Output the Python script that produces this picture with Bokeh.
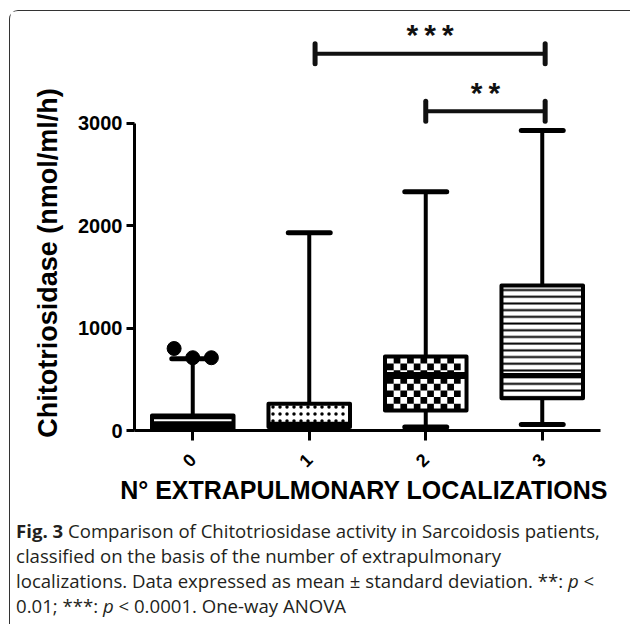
import math
from bokeh.plotting import figure
from bokeh.layouts import column
from bokeh.models import Range1d, FixedTicker, Div
from bokeh.embed import file_html
from bokeh.resources import INLINE
from bokeh.core.properties import value

# ---------------- data ----------------
groups = [0, 1, 2, 3]
group_labels = ["0", "1", "2", "3"]
whisker_low = [0, 15, 35, 58]
q1 = [15, 35, 195, 315]
median = [100, 55, 537, 537]
q3 = [147, 260, 722, 1415]
whisker_high = [700, 1930, 2330, 2927]
outlier_group = [0, 0, 0]
outlier_values = [800, 710, 710]
sig_left = [1, 2]
sig_right = [3, 3]
sig_level = [3675, 3115]
sig_text = ["***", "**"]
y_ticks = [0, 1000, 2000, 3000]
y_title = "Chitotriosidase (nmol/ml/h)"
x_title = "N° EXTRAPULMONARY LOCALIZATIONS"
caption_html = ("<b>Fig. 3</b> Comparison of Chitotriosidase activity in Sarcoidosis patients,<br>"
                "classified on the basis of the number of extrapulmonary<br>"
                "localizations. Data expressed as mean \u00b1 standard deviation. **: <i>p</i> &lt;<br>"
                "0.01; ***: <i>p</i> &lt; 0.0001. One-way ANOVA")

# ---------------- geometry / style ----------------
W, H = 610, 502
FL, FR, FT, FB = 124, 20, 9, 83
x0, x1 = -0.5, 3.5
y0, y1 = 0, 4000
ppx = (W - FL - FR) / (x1 - x0)
ppy = (H - FT - FB) / (y1 - y0)
BW = 0.70
CAP = 0.36
AX_FONT = "Liberation Sans"

p = figure(width=W, height=H, output_backend="svg", toolbar_location=None,
           x_range=Range1d(x0, x1), y_range=Range1d(y0, y1),
           min_border_left=FL, min_border_right=FR, min_border_top=FT, min_border_bottom=FB)
p.outline_line_color = None
p.grid.visible = False
p.background_fill_color = "white"
p.border_fill_color = "white"

# axes
for ax in (p.xaxis[0], p.yaxis[0]):
    ax.axis_line_width = 3
    ax.axis_line_color = "black"
    ax.major_tick_line_width = 3
    ax.major_tick_line_color = "black"
    ax.major_tick_in = 0
    ax.minor_tick_line_color = None
    ax.major_label_text_font = AX_FONT
    ax.major_label_text_font_style = "bold"
    ax.major_label_text_color = "black"
    ax.axis_label_text_font = AX_FONT
    ax.axis_label_text_font_style = "bold"
    ax.axis_label_text_color = "black"

p.yaxis.ticker = FixedTicker(ticks=y_ticks)
p.yaxis.bounds = (y_ticks[0], y_ticks[-1])
p.yaxis.major_tick_out = 8
p.yaxis.major_label_text_font_size = "20px"
p.yaxis.major_label_standoff = 4
# the title sits lower than the frame centre in the reference: pad its far end
p.yaxis.axis_label = y_title + "\u00a0" * 10
p.yaxis.axis_label_text_font_size = "27px"
p.yaxis.axis_label_standoff = 12

p.xaxis.ticker = FixedTicker(ticks=groups)
p.xaxis.major_label_overrides = {g: l for g, l in zip(groups, group_labels)}
p.xaxis.major_tick_out = 10
p.xaxis.major_label_orientation = math.pi / 4
p.xaxis.major_label_text_font_size = "18px"
p.xaxis.major_label_standoff = 16
p.xaxis.axis_label = x_title + "\u00a0"
p.xaxis.axis_label_text_font_size = "25px"
p.xaxis.axis_label_standoff = 0

# whiskers
p.segment(x0=groups, y0=q3, x1=groups, y1=whisker_high, line_width=4, line_color="black")
p.segment(x0=groups, y0=whisker_low, x1=groups, y1=q1, line_width=4, line_color="black")
caps_x0 = [g - CAP / 2 for g in groups]
caps_x1 = [g + CAP / 2 for g in groups]
p.segment(x0=caps_x0, y0=whisker_high, x1=caps_x1, y1=whisker_high, line_width=5,
          line_color="black", line_cap="round")
p.segment(x0=caps_x0[1:], y0=whisker_low[1:], x1=caps_x1[1:], y1=whisker_low[1:], line_width=5,
          line_color="black", line_cap="round")

# box fills
fills = ["black", "white", "white", "white"]
p.vbar(x=groups, bottom=q1, top=q3, width=BW, fill_color=fills, line_color=None)
# box 1 : dots
p.vbar(x=[groups[1]], bottom=[q1[1]], top=[q3[1]], width=BW, fill_alpha=0, line_color=None,
       hatch_pattern="dot", hatch_color="black", hatch_scale=7, hatch_weight=1.0)
# box 3 : horizontal lines
p.vbar(x=[groups[3]], bottom=[q1[3]], top=[q3[3]], width=BW, fill_alpha=0, line_color=None,
       hatch_pattern="horizontal_line", hatch_color="black", hatch_scale=6.7, hatch_weight=2)
# box 2 : checkerboard
cell = 6.7
half_in = BW / 2 * ppx - 2
ncol = int(2 * half_in // cell)
cx, cy = [], []
nrow = int((q3[2] - q1[2]) * ppy // cell)
for r in range(nrow):
    yc = q1[2] + (r + 0.5) * cell / ppy
    for c in range(ncol):
        if (r + c) % 2 == 0:
            xc = groups[2] + (-half_in + (c + 0.5) * cell) / ppx
            cx.append(xc)
            cy.append(yc)
p.rect(x=cx, y=cy, width=cell, height=cell, width_units="screen", height_units="screen",
       fill_color="black", line_color=None)

# medians
med_col = ["white", "black", "black", "black"]
med_w = [2, 6, 7, 5]
for i in groups:
    p.segment(x0=[groups[i] - BW / 2], y0=[median[i]], x1=[groups[i] + BW / 2], y1=[median[i]],
              line_width=med_w[i], line_color=med_col[i])

# box outlines
p.vbar(x=groups, bottom=q1, top=q3, width=BW, fill_alpha=0, line_color="black", line_width=4,
       line_join="round")

# outliers
spread = [-0.16, 0.0, 0.16]
ox = [groups[g] + s for g, s in zip(outlier_group, spread)]
p.scatter(x=ox, y=outlier_values, size=14, fill_color="black", line_color="black")

# significance bars
for a, b, lvl, txt in zip(sig_left, sig_right, sig_level, sig_text):
    xa = a + (0.05 if a == 1 else 0.0)
    xb = b + 0.025
    p.segment(x0=[xa], y0=[lvl], x1=[xb], y1=[lvl], line_width=4, line_color="#111111")
    hh = 10 / ppy
    p.segment(x0=[xa, xb], y0=[lvl - hh, lvl - hh], x1=[xa, xb], y1=[lvl + hh, lvl + hh],
              line_width=5, line_color="#111111", line_cap="round")
    p.text(x=[(xa + xb) / 2], y=[lvl + 19 / ppy], text=["\u2009".join(txt)],
           text_font=value("Liberation Sans"), text_font_style="bold", text_font_size="30px",
           text_align="center", text_baseline="middle", text_color="#111111")

# caption
cap = Div(text=caption_html, width=W, height=108,
          styles={"font-family": "'Open Sans', sans-serif", "font-size": "18.6px",
                  "line-height": "25px", "color": "#231f20", "white-space": "nowrap",
                  "padding-left": "1px"})

layout = column(p, cap, spacing=0,
                styles={"margin-left": "9px", "margin-top": "10px",
                        "border-left": "1.5px solid #333333",
                        "border-top": "1.5px solid #333333",
                        "border-top-left-radius": "9px"})

open("out.html", "w").write(file_html(layout, INLINE))
